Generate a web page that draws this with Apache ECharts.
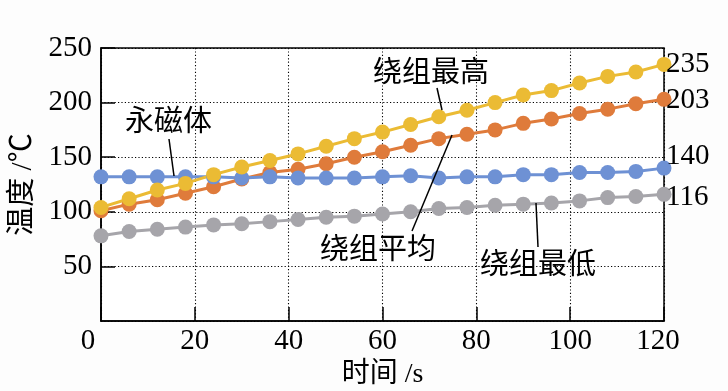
<!DOCTYPE html>
<html>
<head>
<meta charset="utf-8">
<script src="https://cdn.jsdelivr.net/npm/echarts@6/dist/echarts.min.js"></script>
<style>
html,body{margin:0;padding:0;background:#fdfdfd;}
#c{width:728px;height:391px;}
</style>
</head>
<body>
<div id="c"></div>
<script>
var times = [0,6,12,18,24,30,36,42,48,54,60,66,72,78,84,90,96,102,108,114,120];
var windingMax = [104,112,120,126,134,141,147,153,160,167,173,180,187,193,200,207,211,218,224,228,235];
var windingAvg = [101,107,111,117,123,130,136,139,144,150,155,161,167,171,175,181,185,190,194,199,203];
var magnet     = [132,132,132,132,132,131,132,131,131,131,132,133,131,132,132,134,134,136,136,137,140];
var windingMin = [78,82,84,86,88,89,91,93,95,96,98,100,103,104,106,107,108,110,113,114,116];
var xTicks = [0,20,40,60,80,100,120];
var yTicks = [50,100,150,200,250];

var serif = '"Liberation Serif","Times New Roman","Noto Sans CJK SC",serif';
var cjk = '"Noto Sans CJK SC","Liberation Serif",sans-serif';

function pairs(vals){ return times.map(function(t,i){return [t, vals[i]];}); }

function mkSeries(name, vals, color, labelOffset){
  return {
    name: name, type: 'line', data: pairs(vals),
    symbol: 'circle', symbolSize: 15,
    lineStyle: {color: color, width: 3},
    itemStyle: {color: color},
    z: 3,
    endLabel: {
      show: true, distance: 2, offset: labelOffset,
      formatter: function(p){ return String(p.value[1]); },
      color: '#000', fontFamily: serif, fontSize: 29
    },
    animation: false
  };
}

var chart = echarts.init(document.getElementById('c'), null, {renderer:'canvas'});
chart.setOption({
  backgroundColor: '#fdfdfd',
  animation: false,
  grid: {left: 101, right: 64, top: 48, bottom: 70, containLabel: false, outerBoundsMode: 'none',
         show: true, borderColor: '#000', borderWidth: 1.5, backgroundColor: '#fff'},
  xAxis: {
    type: 'value', min: 0, max: 120, interval: 20,
    name: '时间 /s', nameLocation: 'middle', nameGap: 40,
    nameTextStyle: {fontFamily: serif, fontSize: 28, color: '#000'},
    axisLine: {show: true, lineStyle: {color: '#000', width: 1.5}},
    axisTick: {show: true, inside: true, length: 14, lineStyle: {color: '#000', width: 1.5}},
    axisLabel: {
      margin: 6, color: '#000', fontFamily: serif, fontSize: 29,
      formatter: function(v){
        if (xTicks.indexOf(v) < 0) return '';
        if (v === 0) return '{l|0}';
        if (v === 120) return '{r|120}';
        return String(v);
      },
      rich: {
        l: {fontFamily: serif, fontSize: 29, color: '#000', padding: [0, 26, 0, 0]},
        r: {fontFamily: serif, fontSize: 29, color: '#000', padding: [0, 12, 0, 0]}
      }
    },
    splitLine: {show: true, lineStyle: {color: '#000', type: [1.2, 2.2], width: 1.1}}
  },
  yAxis: {
    type: 'value', min: 0, max: 250, interval: 50,
    name: '温度 /℃', nameLocation: 'middle', nameGap: 57, nameRotate: 90,
    nameTextStyle: {fontFamily: serif, fontSize: 29, color: '#000'},
    axisLine: {show: true, lineStyle: {color: '#000', width: 1.5}},
    axisTick: {show: true, inside: true, length: 14, lineStyle: {color: '#000', width: 1.5}},
    axisLabel: {
      margin: 9, color: '#000', fontFamily: serif, fontSize: 29, showMinLabel: false,
      formatter: function(v){ return yTicks.indexOf(v) < 0 ? '' : String(v); }
    },
    splitLine: {show: true, lineStyle: {color: '#000', type: [1.2, 2.2], width: 1.1}}
  },
  series: [
    mkSeries('绕组最低', windingMin, '#a6a5aa', [0, 3]),
    mkSeries('绕组平均', windingAvg, '#df7b3b', [0, 1]),
    mkSeries('永磁体', magnet, '#6e91d4', [0, -12]),
    mkSeries('绕组最高', windingMax, '#ebbb34', [0, 0])
  ],
  graphic: [
    {type:'text', left: 125, top: 105, z: 10, style:{text:'永磁体', font:'29px ' + cjk, fill:'#000'}},
    {type:'line', z: 10, shape:{x1:169, y1:139, x2:174, y2:176}, style:{stroke:'#000', lineWidth:1.5}},
    {type:'text', left: 373, top: 56, z: 10, style:{text:'绕组最高', font:'29px ' + cjk, fill:'#000'}},
    {type:'line', z: 10, shape:{x1:437, y1:88, x2:442, y2:110}, style:{stroke:'#000', lineWidth:1.5}},
    {type:'text', left: 320, top: 233, z: 10, style:{text:'绕组平均', font:'29px ' + cjk, fill:'#000'}},
    {type:'line', z: 10, shape:{x1:412, y1:231, x2:452, y2:135}, style:{stroke:'#000', lineWidth:1.5}},
    {type:'text', left: 480, top: 248, z: 10, style:{text:'绕组最低', font:'29px ' + cjk, fill:'#000'}},
    {type:'line', z: 10, shape:{x1:538, y1:247, x2:536, y2:203}, style:{stroke:'#000', lineWidth:1.5}}
  ]
});
</script>
</body>
</html>
